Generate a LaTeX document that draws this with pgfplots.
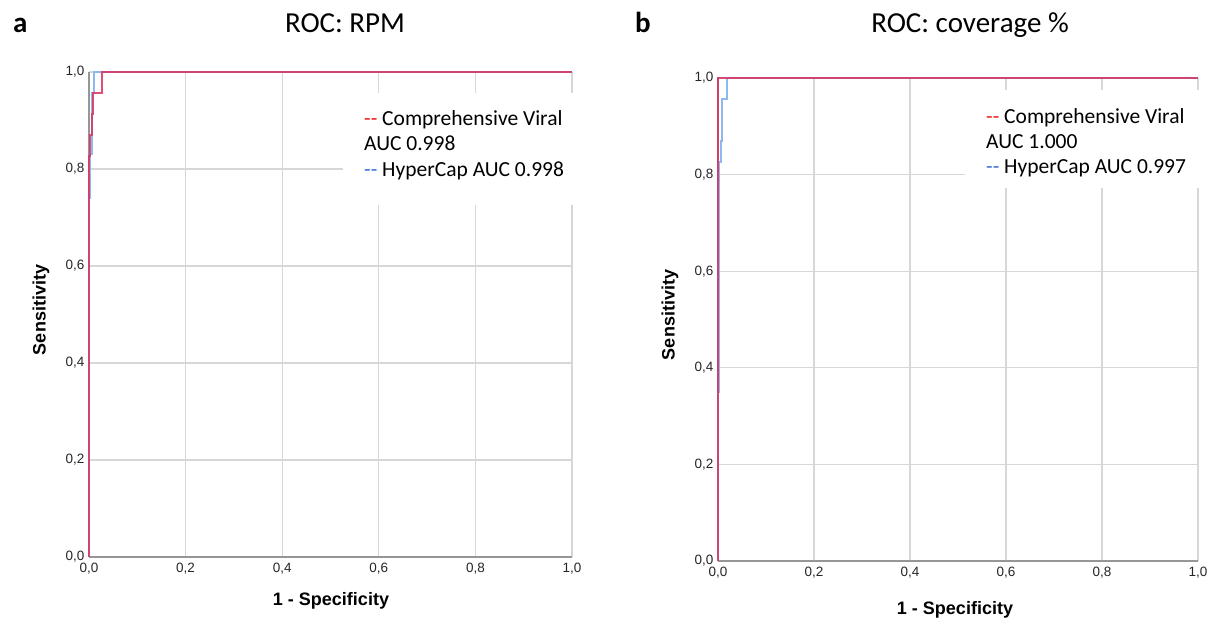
\documentclass[border=0pt]{standalone}
\usepackage{pgfplots}
\pgfplotsset{compat=1.18}
\usepackage{fontspec}
\setmainfont{Carlito}
\newfontfamily\arial{Liberation Sans}
\definecolor{rocred}{RGB}{218,48,92}
\definecolor{rocblue}{RGB}{140,185,240}
\definecolor{axgray}{RGB}{150,150,150}
\definecolor{gridgray}{RGB}{215,215,215}
\definecolor{legred}{RGB}{235,30,30}
\definecolor{legblue}{RGB}{60,110,220}

\pgfplotsset{
  rocaxis/.style={
    scale only axis, anchor=south west,
    xmin=0, xmax=1, ymin=0, ymax=1,
    clip=false,
    axis lines*=left,
    axis line style={axgray, line width=1.8pt},
    xtick={0,0.2,0.4,0.6,0.8,1},
    ytick={0,0.2,0.4,0.6,0.8,1},
    grid=major,
    grid style={gridgray, line width=1.3pt},
    major tick length=0pt,
    tick label style={font=\arial\fontsize{13.5}{15}\selectfont, text=black!85},
    xticklabel style={yshift=-3pt},
    yticklabel style={xshift=-1pt},
    /pgf/number format/fixed,
    /pgf/number format/fixed zerofill,
    /pgf/number format/precision=1,
    /pgf/number format/use comma,
    /pgf/number format/assume math mode=true,
  },
  bluecurve/.style={rocblue, line width=2pt},
  redcurve/.style={rocred, line width=2pt, opacity=0.85},
}

\begin{document}
\begin{tikzpicture}[x=1pt, y=1pt]
\useasboundingbox (0,0) rectangle (1215,628);

% ---- panel a : RPM ----
\begin{axis}[rocaxis, at={(89pt,71pt)}, width=483pt, height=485pt]
\addplot[bluecurve] coordinates {
  (0,0) (0,0.74) (0.003,0.74) (0.003,0.83) (0.007,0.83) (0.007,0.957)
  (0.011,0.957) (0.011,1) (1,1)
};
\addplot[redcurve] coordinates {
  (0,0) (0,0.826) (0.003,0.826) (0.003,0.87) (0.006,0.87) (0.006,0.913)
  (0.008,0.913) (0.008,0.957) (0.026,0.957) (0.026,1) (1,1)
};
\end{axis}

% ---- panel b : coverage ----
\begin{axis}[rocaxis, at={(718pt,67pt)}, width=480pt, height=483pt]
\addplot[bluecurve] coordinates {
  (0,0) (0,0.35) (0.003,0.35) (0.003,0.826) (0.006,0.826) (0.006,0.87)
  (0.008,0.87) (0.008,0.957) (0.019,0.957) (0.019,1) (1,1)
};
\addplot[redcurve] coordinates {
  (0,0) (0,1) (1,1)
};
\end{axis}

% legend boxes
\fill[white] (343,535) rectangle (600,423);
\fill[white] (965,538) rectangle (1215,440);

\begin{scope}[every node/.style={font=\fontsize{21.5}{25}\selectfont, inner sep=0pt, anchor=base west}]
\node at (364,502) {\textcolor{legred}{-{}-} Comprehensive Viral};
\node at (364,477) {AUC 0.998};
\node at (364,451) {\textcolor{legblue}{-{}-} HyperCap AUC 0.998};
\node at (986,504) {\textcolor{legred}{-{}-} Comprehensive Viral};
\node at (986,479) {AUC 1.000};
\node at (986,454) {\textcolor{legblue}{-{}-} HyperCap AUC 0.997};
\end{scope}

% titles and panel letters
\node[font=\fontsize{29}{33}\selectfont, anchor=base, inner sep=0pt] at (345,595) {ROC: RPM};
\node[font=\fontsize{29}{33}\selectfont, anchor=base, inner sep=0pt] at (970,595) {ROC: coverage \%};
\node[font=\fontsize{29}{33}\selectfont\bfseries, anchor=base west, inner sep=0pt] at (13,595) {a};
\node[font=\fontsize{29}{33}\selectfont\bfseries, anchor=base west, inner sep=0pt] at (635,595) {b};

% axis labels
\node[font=\arial\fontsize{18}{20}\selectfont\bfseries, rotate=90, inner sep=0pt] at (41,318) {Sensitivity};
\node[font=\arial\fontsize{18}{20}\selectfont\bfseries, rotate=90, inner sep=0pt] at (670,313) {Sensitivity};
\node[font=\arial\fontsize{18}{20}\selectfont\bfseries, inner sep=0pt] at (331,27) {1 - Specificity};
\node[font=\arial\fontsize{18}{20}\selectfont\bfseries, inner sep=0pt] at (955,18) {1 - Specificity};
\end{tikzpicture}
\end{document}
